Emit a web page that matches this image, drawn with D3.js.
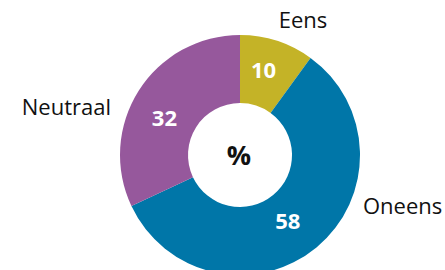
<!DOCTYPE html>
<html>
<head>
<meta charset="utf-8">
<script src="https://cdn.jsdelivr.net/npm/d3@7"></script>
<style>
  body { margin: 0; background: #fff; }
  svg { display: block; font-family: "Open Sans", "Noto Sans", sans-serif; }
</style>
</head>
<body>
<svg id="chart" width="445" height="270"></svg>
<script>
var categories = ["Eens", "Oneens", "Neutraal"];
var values = [10, 58, 32];
var colors = ["#c4b327", "#0076a8", "#96589c"];

var svg = d3.select("#chart");
var cx = 240, cy = 155;
var outerR = 120, innerR = 52;

var pie = d3.pie().sort(null).value(function(d) { return d; });
var arcs = pie(values);
var arc = d3.arc().innerRadius(innerR).outerRadius(outerR);

var g = svg.append("g").attr("transform", "translate(" + cx + "," + cy + ")");

g.selectAll("path.slice")
  .data(arcs)
  .enter().append("path")
  .attr("class", "slice")
  .attr("d", arc)
  .attr("fill", function(d, i) { return colors[i]; });

// small nudges of the value labels off the centroid
var nudge = [[-3, -3], [-7, 0], [-3, 9]];

g.selectAll("text.val")
  .data(arcs)
  .enter().append("text")
  .attr("class", "val")
  .attr("transform", function(d, i) {
    var c = arc.centroid(d);
    return "translate(" + (c[0] + nudge[i][0]) + "," + (c[1] + nudge[i][1]) + ")";
  })
  .attr("text-anchor", "middle")
  .attr("dy", "0.36em")
  .attr("fill", "#fff")
  .attr("font-weight", "bold")
  .attr("font-size", 22)
  .text(function(d) { return d.value; });

g.append("text")
  .attr("text-anchor", "middle")
  .attr("dy", "0.36em")
  .attr("x", -1)
  .attr("y", 0)
  .attr("font-weight", "bold")
  .attr("font-size", 27)
  .attr("fill", "#111")
  .text("%");

// category labels outside
var labelPos = [
  {x: 303, y: 20.5, anchor: "middle"},
  {x: 363, y: 206, anchor: "start"},
  {x: 111, y: 107.5, anchor: "end"}
];
svg.selectAll("text.cat")
  .data(categories)
  .enter().append("text")
  .attr("class", "cat")
  .attr("x", function(d, i) { return labelPos[i].x; })
  .attr("y", function(d, i) { return labelPos[i].y; })
  .attr("dy", "0.36em")
  .attr("text-anchor", function(d, i) { return labelPos[i].anchor; })
  .attr("font-size", 22)
  .attr("fill", "#111")
  .text(function(d) { return d; });
</script>
</body>
</html>
